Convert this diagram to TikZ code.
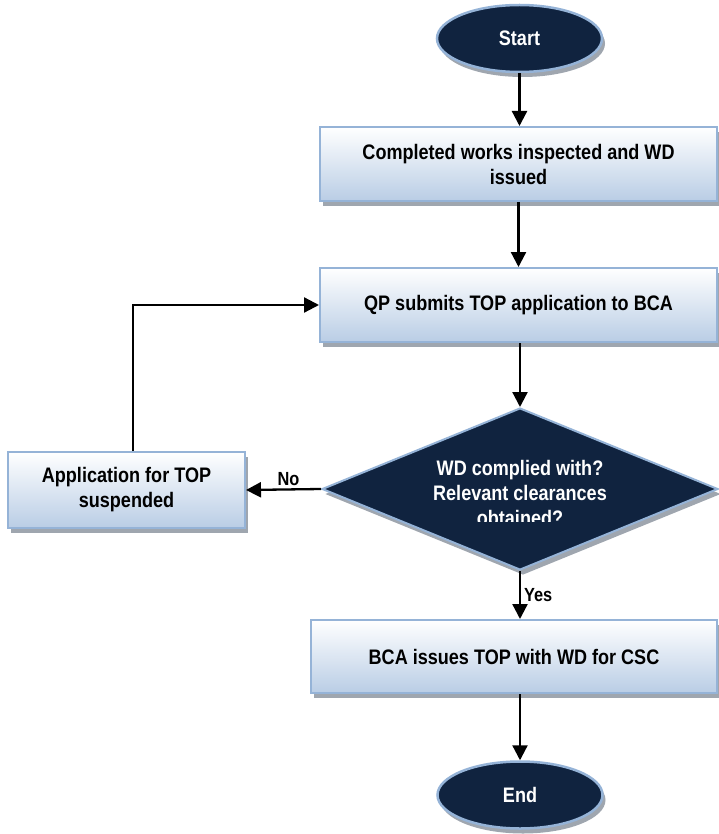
\documentclass[tikz,border=0pt]{standalone}
\usepackage{fontspec}
\setmainfont{Liberation Sans}[FakeStretch=0.86]
\usetikzlibrary{shapes.geometric,arrows.meta,shadows}
\definecolor{navy}{HTML}{10233F}
\definecolor{edgeblue}{HTML}{95B3D7}
\definecolor{boxbot}{HTML}{B9CDE5}
\definecolor{shadowgray}{HTML}{9FA6AF}
\tikzset{
  shad/.style={drop shadow={shadow xshift=3pt,shadow yshift=-5pt,fill=shadowgray,opacity=1}},
  procbox/.style={rectangle,draw=edgeblue,line width=2pt,top color=white,bottom color=boxbot,
    align=center,inner sep=0pt,font=\bfseries\fontsize{21}{25}\selectfont,shad},
  term/.style={ellipse,fill=navy,draw=edgeblue,line width=2.5pt,inner sep=0pt,
    minimum width=165pt,minimum height=67pt,text=white,font=\bfseries\fontsize{21}{25}\selectfont,shad},
  decis/.style={diamond,fill=navy,draw=edgeblue,line width=2pt,inner sep=0pt,
    minimum width=396pt,minimum height=162pt,shad},
  diatext/.style={align=center,text=white,font=\bfseries\fontsize{21}{25}\selectfont,inner sep=0pt},
  lbl/.style={font=\bfseries\fontsize{19}{22}\selectfont,inner sep=3pt},
  arr/.style={line width=2.3pt,-{Triangle[length=15pt,width=15pt]}}
}
\begin{document}
\begin{tikzpicture}[x=1pt,y=-1pt]
\useasboundingbox (0,0) rectangle (719,834);
\node[term] (start) at (519.5,38.5) {Start};
\node[procbox,minimum width=397pt,minimum height=74pt] (box1) at (518.5,164) {Completed works inspected and WD\\issued};
\node[procbox,minimum width=397pt,minimum height=74pt] (box2) at (518.5,305) {QP submits TOP application to BCA};
\node[decis] (dia) at (520,489) {};
\begin{scope}
  \clip (0,0) rectangle (719,521);
  \node[diatext] (q) at (520,493) {WD complied with?\\Relevant clearances\\obtained?};
\end{scope}
\node[procbox,minimum width=237pt,minimum height=76pt] (susp) at (126.5,490) {Application for TOP\\suspended};
\node[procbox,minimum width=406pt,minimum height=73pt] (box3) at (514,656.5) {BCA issues TOP with WD for CSC};
\node[term] (end) at (520,795) {End};

\draw[arr] (start.south) -- (start.south |- box1.north);
\draw[arr] (box1.south) -- (box2.south |- box2.north);
\draw[arr] (box2.south -| dia.north) -- (dia.north);
\draw[arr] (dia.south) -- (dia.south |- box3.north) node[midway,right,lbl] {Yes};
\draw[arr] (box3.south -| end.north) -- (end.north);
\draw[arr] (dia.west) -- (susp.east) node[midway,above,lbl,xshift=5pt] {No};
\coordinate (loopstart) at ([xshift=6.5pt]susp.north);
\draw[arr] (loopstart) |- (box2.west);
\end{tikzpicture}
\end{document}
